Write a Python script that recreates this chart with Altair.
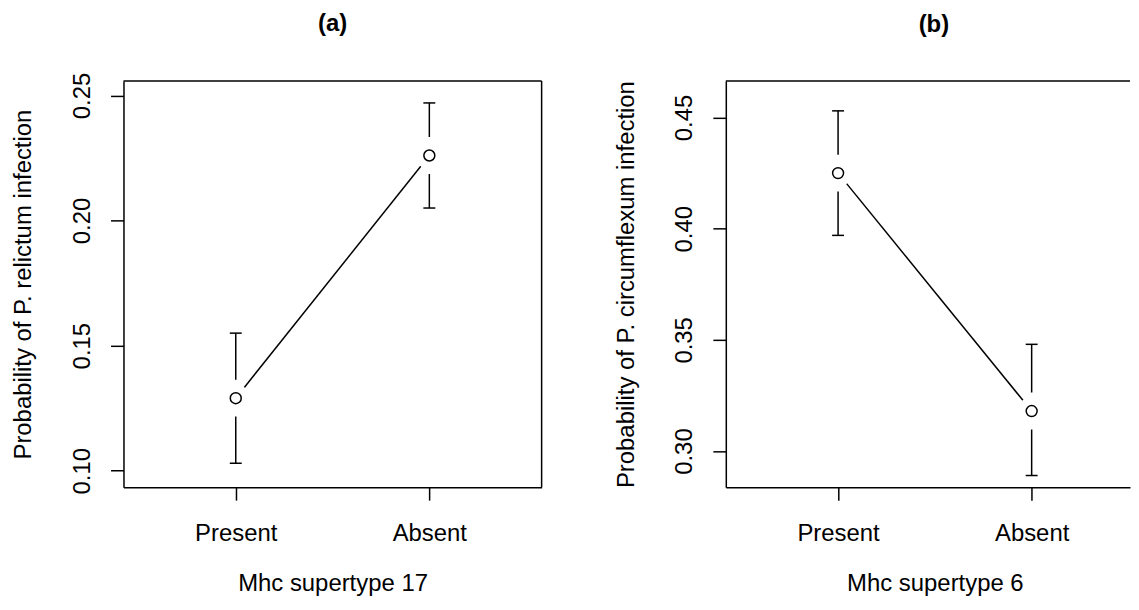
import altair as alt
import pandas as pd

# ---- data ----
groups = ["Present", "Absent"]
positions = [1, 2]

a_mean = [0.129, 0.226]
a_low = [0.103, 0.205]
a_high = [0.155, 0.247]

b_mean = [0.425, 0.318]
b_low = [0.397, 0.289]
b_high = [0.453, 0.348]

a_ticks = [0.10, 0.15, 0.20, 0.25]
b_ticks = [0.30, 0.35, 0.40, 0.45]

FONT = "Liberation Sans"
H = 408
PX_PER_STEP = 194.44  # distance between the two groups, shared by both panels

label_expr = "[" + ",".join("'%s'" % g for g in groups) + "][datum.value - 1]"

# white mask: circle gap for the joining line + taller gap for the error bars
MASK = ("M0.757,0 A0.757,0.757 0 1,1 -0.757,0 A0.757,0.757 0 1,1 0.757,0 Z "
        "M-0.135,-1 L0.135,-1 L0.135,1 L-0.135,1 Z")


def panel(means, lows, highs, ydom, yticks, ytitle, xtitle, ptitle, width, right_border, tdx, toff):
    df = pd.DataFrame({"pos": positions, "group": groups, "mean": means, "low": lows, "high": highs})
    base = alt.Chart(df)
    xdom = [0.42, 0.42 + width / PX_PER_STEP]

    xaxis = alt.Axis(values=positions, labelExpr=label_expr, title=xtitle,
                     tickSize=13, labelPadding=41, labelBaseline="alphabetic",
                     labelAlign="center", labelFlush=False, grid=False,
                     titleY=104, titleX=210, titleBaseline="alphabetic", titleAlign="center")
    yaxis = alt.Axis(values=yticks, format=".2f", title=ytitle,
                     tickSize=13, labelPadding=21, labelAngle=270,
                     labelAlign="center", labelBaseline="alphabetic", labelFlush=False,
                     labelOverlap=False, labelBound=False, grid=False,
                     titleAngle=270, titleX=-93, titleY=H / 2,
                     titleBaseline="alphabetic", titleAlign="center")

    def X():
        return alt.X("pos:Q", scale=alt.Scale(domain=xdom, nice=False, zero=False), axis=xaxis)

    def Y(field):
        return alt.Y(field + ":Q", scale=alt.Scale(domain=ydom, nice=False, zero=False), axis=yaxis)

    line = base.mark_line(color="black", strokeWidth=1.5).encode(x=X(), y=Y("mean"))
    bars = base.mark_rule(color="black", strokeWidth=1.5).encode(x=X(), y=Y("low"), y2="high:Q")
    cap_lo = base.mark_tick(color="black", orient="horizontal", size=12, thickness=1.5, opacity=1).encode(x=X(), y=Y("low"))
    cap_hi = base.mark_tick(color="black", orient="horizontal", size=12, thickness=1.5, opacity=1).encode(x=X(), y=Y("high"))
    mask = base.mark_point(shape=MASK, size=1369, filled=True, fill="white", stroke=None,
                           strokeWidth=0, opacity=1).encode(x=X(), y=Y("mean"))
    pts = base.mark_point(shape="circle", size=121, filled=True, fill="white",
                          stroke="black", strokeWidth=1.5, opacity=1).encode(x=X(), y=Y("mean"))

    one = alt.Chart(alt.Data(values=[{"k": 1}]))
    top = one.mark_rule(color="black", strokeWidth=1.5).encode(
        x=alt.value(0), x2=alt.value(width), y=alt.value(0))
    layers = [line, bars, cap_lo, cap_hi, mask, pts, top]
    if right_border:
        layers.append(one.mark_rule(color="black", strokeWidth=1.5).encode(
            x=alt.value(width), y=alt.value(0), y2=alt.value(H)))

    return alt.layer(*layers).properties(
        width=width, height=H,
        title=alt.Title(ptitle, fontSize=24, fontWeight="bold", font=FONT, color="black",
                        frame="group", anchor="middle", baseline="alphabetic", offset=toff, dx=tdx),
    )


pa = panel(a_mean, a_low, a_high, [0.09343, 0.25577], a_ticks,
           "Probability of P. relictum infection", "Mhc supertype 17", "(a)",
           420, True, 0, 17)
pb = panel(b_mean, b_low, b_high, [0.28375, 0.46643], b_ticks,
           "Probability of P. circumflexum infection", "Mhc supertype 6", "(b)",
           406, False, 6, 24)

chart = alt.hconcat(pa, pb, spacing=71).properties(
    padding={"left": 3, "top": 3, "right": 0, "bottom": 5}
).configure_view(stroke=None).configure_axis(
    grid=False,
    domainColor="black", domainWidth=1.5,
    tickColor="black", tickWidth=1.5,
    labelFont=FONT, labelFontSize=24, labelColor="black",
    titleFont=FONT, titleFontSize=24, titleFontWeight="normal", titleColor="black",
)

chart.save("out.html", embed_options={"renderer": "svg", "actions": False})
